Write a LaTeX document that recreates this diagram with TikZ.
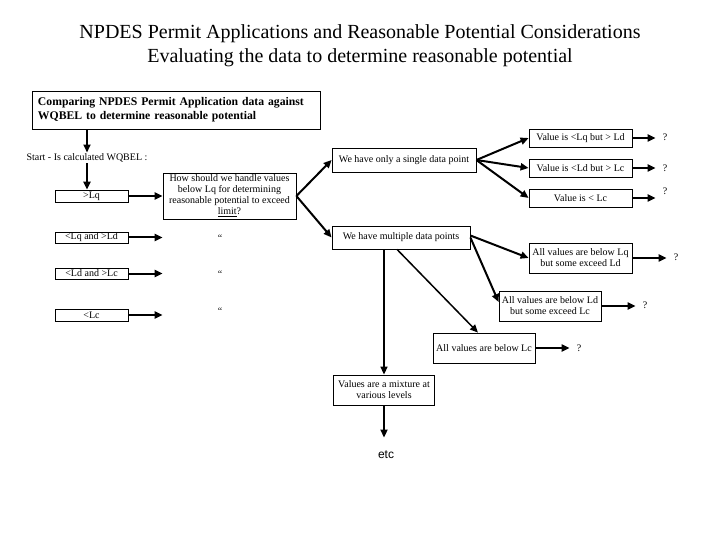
\documentclass[tikz,border=0pt]{standalone}
\usepackage{fontspec}
\setmainfont{Liberation Serif}
\setsansfont{Liberation Sans}
\usetikzlibrary{arrows.meta}
\begin{document}
\begin{tikzpicture}[x=1bp, y=-1bp,
	box/.style={draw, line width=.8bp, inner sep=.5bp, align=center, font=\fontsize{10bp}{11bp}\selectfont},
	plain/.style={inner sep=1bp, font=\fontsize{10bp}{11bp}\selectfont},
	arr/.style={-{Triangle[length=8bp,width=7bp]}, line width=2bp}]
	\useasboundingbox (0,0) rectangle (720,540);
	% titles
	\node[align=center, font=\fontsize{20bp}{24bp}\selectfont] (title) at (360,45.5)
		{NPDES Permit Applications and Reasonable Potential Considerations\\Evaluating the data to determine reasonable potential};
	\node[draw, line width=.8bp, minimum width=288bp, minimum height=38bp, text width=276bp, align=left,
		font=\bfseries\fontsize{11.7bp}{14bp}\selectfont] (cmp) at (176,110)
		{Comparing NPDES Permit Application data against\\WQBEL to determine reasonable potential};
	% left column
	\node[plain] (start) at (87,158) {Start - Is calculated WQBEL :};
	\node[box, minimum width=73bp, minimum height=12bp] (lq) at (91.5,196) {>Lq};
	\node[box, minimum width=73bp, minimum height=11bp] (lqld) at (91.5,237.5) {<Lq and >Ld};
	\node[box, minimum width=73bp, minimum height=11bp] (ldlc) at (91.5,273.5) {<Ld and >Lc};
	\node[box, minimum width=73bp, minimum height=12bp] (lc) at (91.5,315) {<Lc};
	\node[box, minimum width=133bp, minimum height=46bp] (how) at (229.5,196)
		{How should we handle values\\below Lq for determining\\reasonable potential to exceed\\\underline{limit}?};
	\node[plain] (d1) at (220,238) {\textquotedblleft};
	\node[plain] (d2) at (220,274) {\textquotedblleft};
	\node[plain] (d3) at (220,311) {\textquotedblleft};
	% single data point
	\node[box, minimum width=144bp, minimum height=24bp] (single) at (404,160) {We have only a single data point};
	\node[box, minimum width=103bp, minimum height=18bp] (v1) at (580.5,138) {Value is <Lq but > Ld};
	\node[box, minimum width=103bp, minimum height=18bp] (v2) at (580.5,168) {Value is <Ld but > Lc};
	\node[box, minimum width=103bp, minimum height=18bp] (v3) at (580.5,198) {Value is < Lc};
	\node[plain] (q1) at (665,137) {?};
	\node[plain] (q2) at (665,168) {?};
	\node[plain] (q3) at (665,191) {?};
	% multiple data points
	\node[box, minimum width=138bp, minimum height=23bp] (multi) at (401,237.5) {We have multiple data points};
	\node[box, minimum width=103bp, minimum height=30bp] (m1) at (580.5,258) {All values are below Lq\\but some exceed Ld};
	\node[box, minimum width=102bp, minimum height=30bp] (m2) at (550,306) {All values are below Ld\\but some exceed Lc};
	\node[box, minimum width=102bp, minimum height=30bp] (m3) at (484,348) {All values are below Lc};
	\node[plain] (qm1) at (676,257) {?};
	\node[plain] (qm2) at (645,305) {?};
	\node[plain] (qm3) at (579,348) {?};
	\node[box, minimum width=101bp, minimum height=30bp] (mix) at (384,390) {Values are a mixture at\\various levels};
	\node[font=\sffamily\fontsize{12bp}{14bp}\selectfont] (etc) at (386,455) {etc};
	% connectors
	\draw[arr] (cmp.south -| start) -- (start.north);
	\draw[arr] (start.south) -- (start.south |- lq.north);
	\foreach \n in {lq,lqld,ldlc,lc} \draw[arr] (\n.east) -- (\n.east -| how.west);
	\draw[arr] (how.east) -- (single.west);
	\draw[arr] (how.east) -- (multi.west);
	\foreach \n in {v1,v2,v3} \draw[arr] (single.east) -- (\n.west);
	\foreach \n/\q in {v1/q1,v2/q2,v3/q3,m1/qm1,m2/qm2,m3/qm3} \draw[arr, shorten >=6bp] (\n.east) -- (\n.east -| \q.west);
	\draw[arr] ([yshift=2bp]multi.east) -- (m1.west);
	\draw[arr] (multi.east) -- ([yshift=4bp]m2.west);
	\draw[arr, line width=1.5bp] ([xshift=-4bp]multi.south) -- ([xshift=-6bp]m3.north);
	\draw[arr, line width=1.5bp] (multi.south -| mix) -- (mix.north);
	\draw[arr, shorten >=10bp] (mix.south) -- (mix.south |- etc.north);
\end{tikzpicture}
\end{document}
